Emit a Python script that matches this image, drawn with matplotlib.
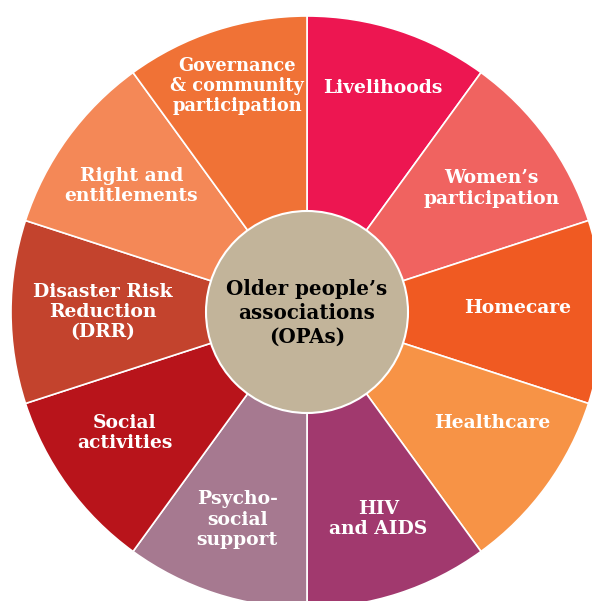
import matplotlib
matplotlib.use("Agg")
import matplotlib.pyplot as plt
import numpy as np

# ---- data ----
categories = [
    "Livelihoods",
    "Women\u2019s\nparticipation",
    "Homecare",
    "Healthcare",
    "HIV\nand AIDS",
    "Psycho-\nsocial\nsupport",
    "Social\nactivities",
    "Disaster Risk\nReduction\n(DRR)",
    "Right and\nentitlements",
    "Governance\n& community\nparticipation",
]
values = [1] * len(categories)
colors = [
    "#ED1651", "#F06360", "#F05A22", "#F79346", "#A1396E",
    "#A67990", "#B8141B", "#C3432D", "#F48857", "#F07236",
]
center_label = "Older people\u2019s\nassociations\n(OPAs)"
center_color = "#C2B49A"

# ---- layout (pixel coordinates, y up) ----
W, H = 592, 601
cx, cy = 307, H - 312
R_out, R_in = 296, 101
label_r = [0.80, 0.75, 0.71, 0.73, 0.74, 0.74, 0.74, 0.69, 0.73, 0.80]
label_dang = [-0.6, -2.2, 1.0, 5.0, 1.0, -0.6, -2.4, 0.0, 0.4, -0.9]
label_size = [13.5, 13.5, 13.5, 13.5, 13.5, 13.5, 13.5, 13.5, 13.5, 12.8]

fig = plt.figure(figsize=(W / 100, H / 100), dpi=100)
ax = fig.add_axes([0, 0, 1, 1])

wedges, _ = ax.pie(
    values, colors=colors, startangle=90, counterclock=False,
    radius=R_out, center=(cx, cy), frame=True,
    wedgeprops=dict(edgecolor="white", linewidth=1.2),
)
ax.set_xlim(0, W)
ax.set_ylim(0, H)
ax.set_aspect("equal")
ax.axis("off")

font = dict(family="DejaVu Serif", fontweight="bold", color="white",
            ha="center", va="center", linespacing=1.15)

for w, lab, r, da, fs in zip(wedges, categories, label_r, label_dang, label_size):
    ang = np.deg2rad((w.theta1 + w.theta2) / 2 + da)
    x = cx + r * R_out * np.cos(ang)
    y = cy + r * R_out * np.sin(ang)
    ax.text(x, y, lab, fontsize=fs, **font)

circ = plt.Circle((cx, cy), R_in, facecolor=center_color, edgecolor="white",
                  linewidth=1.5, zorder=5)
ax.add_patch(circ)
ax.text(cx, cy - 1, center_label, fontsize=14.3, family="DejaVu Serif",
        fontweight="bold", color="black", ha="center", va="center",
        linespacing=1.25, zorder=6)

fig.savefig("out.png", dpi=100, facecolor="white")
